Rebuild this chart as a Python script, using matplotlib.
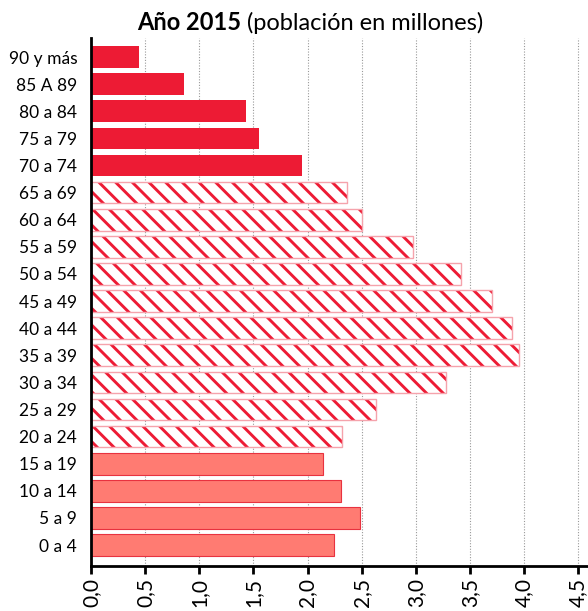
import matplotlib
matplotlib.use("Agg")
import matplotlib.pyplot as plt
import numpy as np

plt.rcParams['font.family'] = ['Lato', 'DejaVu Sans']
plt.rcParams['hatch.linewidth'] = 2.1

# age groups, bottom to top
groups = ["0 a 4", "5 a 9", "10 a 14", "15 a 19", "20 a 24", "25 a 29",
          "30 a 34", "35 a 39", "40 a 44", "45 a 49", "50 a 54", "55 a 59",
          "60 a 64", "65 a 69", "70 a 74", "75 a 79", "80 a 84", "85 A 89",
          "90 y más"]
# population, millions
young = [2.24, 2.48, 2.31, 2.14]
working = [2.32, 2.63, 3.28, 3.95, 3.89, 3.70, 3.42, 2.975, 2.50, 2.36]
old = [1.95, 1.55, 1.43, 0.86, 0.44]
xticks = [0, 0.5, 1.0, 1.5, 2.0, 2.5, 3.0, 3.5, 4.0, 4.5]

RED = "#ED1B34"
SALMON = "#FF7B72"

fig = plt.figure(figsize=(5.88, 6.11), dpi=100)
ax = fig.add_axes([0.1548, 0.0741, 0.8452, 0.8632])

y = np.arange(len(groups))
h = 0.8
n1, n2 = len(young), len(working)
ax.barh(y[:n1], young, height=h, color=SALMON, edgecolor="#E8323F", linewidth=0.8, zorder=3)
ax.barh(y[n1:n1 + n2], working, height=h, color="white", edgecolor=RED,
        hatch="\\\\", linewidth=0, zorder=3)
ax.barh(y[n1:n1 + n2], working, height=h, fill=False, edgecolor="#F5A3AC",
        linewidth=1.0, zorder=4)
ax.barh(y[n1 + n2:], old, height=h, color=RED, linewidth=0, zorder=3)

ax.set_xlim(0, 4.59)
ax.set_ylim(-0.76, 18.69)
ax.set_yticks(y)
ax.set_yticklabels(groups, fontsize=12.5)
ax.tick_params(axis='y', length=0, pad=10)
ax.set_xticks(xticks)
ax.set_xticklabels([("%.1f" % v).replace(".", ",") for v in xticks],
                   rotation=90, fontsize=15)
ax.tick_params(axis='x', length=6, width=2, direction='out', pad=3)

ax.grid(axis='x', linestyle=(0, (1, 1.5)), color="#999999", linewidth=0.8, zorder=0)
for s in ("top", "right"):
    ax.spines[s].set_visible(False)
for s in ("left", "bottom"):
    ax.spines[s].set_linewidth(2)
    ax.spines[s].set_zorder(5)

# title: bold part + regular part
t1 = fig.text(0, 0.951, "Año 2015", fontsize=17, fontweight="bold", va="baseline")
t2 = fig.text(0, 0.951, " (población en millones)", fontsize=17, va="baseline")
fig.canvas.draw()
r = fig.canvas.get_renderer()
w1 = t1.get_window_extent(r).width
w2 = t2.get_window_extent(r).width
W = fig.bbox.width
x0 = 0.528 - (w1 + w2) / 2 / W
t1.set_x(x0)
t2.set_x(x0 + w1 / W)

fig.savefig("out.png", dpi=100)
